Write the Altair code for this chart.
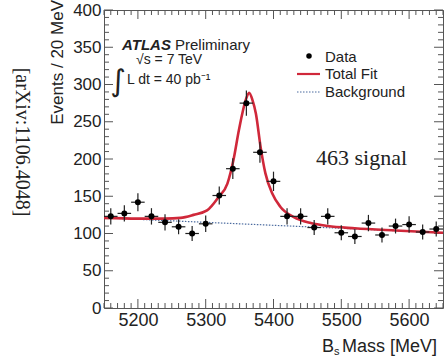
import altair as alt
import pandas as pd

# ---- data ----
mass = [5160, 5180, 5200, 5220, 5240, 5260, 5280, 5300, 5320, 5340, 5360, 5380, 5400,
        5420, 5440, 5460, 5480, 5500, 5520, 5540, 5560, 5580, 5600, 5620, 5640]
counts = [123, 127, 142, 123, 115, 109, 100, 113, 151, 187, 275, 209, 170,
          123, 123, 108, 123, 101, 96, 114, 98, 110, 112, 102, 106]
errors = [11, 11, 12, 11, 11, 10, 10, 11, 12, 14, 17, 14, 13,
          11, 11, 10, 11, 10, 10, 11, 10, 10, 11, 10, 10]
bin_half = 10

fit_mass = [5150, 5200, 5240, 5263, 5282, 5302, 5319, 5332, 5341, 5349, 5359, 5364,
            5369, 5374, 5381, 5388, 5398, 5410, 5430, 5455, 5480, 5520, 5580, 5650]
fit_val = [121, 120, 120, 121, 125, 131, 149, 167, 199, 239, 279, 289,
           279, 261, 216, 181, 154, 136, 122, 114, 110, 107, 104, 101]

bg_mass = [5150, 5650]
bg_val = [121, 101]

x_labels = [5200, 5300, 5400, 5500, 5600]
y_labels = [0, 50, 100, 150, 200, 250, 300, 350, 400]
x_minor = [v for v in range(5150, 5651, 10) if v not in x_labels]
y_minor = [v for v in range(0, 401, 10) if v not in y_labels]

W, H = 339, 298
FONT = "Liberation Sans"
SERIF = "Liberation Serif"
TXT = "#222222"
RED = "#d0283a"
BLUE = "#4a6a9e"
AXC = "#555555"

xs = alt.Scale(domain=[5150, 5650], nice=False, zero=False)
ys = alt.Scale(domain=[0, 400], nice=False, zero=True)
XA = alt.Axis(values=x_labels, title=None, format="d", labelFontSize=18, labelPadding=3,
              labelFont=FONT, labelColor=TXT, ticks=False, domain=False, grid=False)
YA = alt.Axis(values=y_labels, title=None, format="d", labelFontSize=17, labelPadding=3,
              labelFont=FONT, labelColor=TXT, ticks=False, domain=False, grid=False)

df = pd.DataFrame({"m": mass, "n": counts, "e": errors})
df["lo"] = df["n"] - df["e"]
df["hi"] = df["n"] + df["e"]
df["ml"] = df["m"] - bin_half
df["mh"] = df["m"] + bin_half

base = alt.Chart(df)
vbar = base.mark_rule(color=TXT, strokeWidth=1.2).encode(
    x=alt.X("m:Q", scale=xs, axis=XA), y=alt.Y("lo:Q", scale=ys, axis=YA), y2="hi:Q")
hbar = base.mark_rule(color=TXT, strokeWidth=1.2).encode(
    x=alt.X("ml:Q", scale=xs, axis=XA), x2="mh:Q", y=alt.Y("n:Q", scale=ys, axis=YA))
pts = base.mark_circle(color="black", size=36, opacity=1).encode(
    x=alt.X("m:Q", scale=xs, axis=XA), y=alt.Y("n:Q", scale=ys, axis=YA))

bg = alt.Chart(pd.DataFrame({"m": bg_mass, "v": bg_val})).mark_line(
    color=BLUE, strokeWidth=1.2, strokeDash=[1.5, 1.5]).encode(
    x=alt.X("m:Q", scale=xs, axis=XA), y=alt.Y("v:Q", scale=ys, axis=YA))
fit = alt.Chart(pd.DataFrame({"m": fit_mass, "v": fit_val})).mark_line(
    color=RED, strokeWidth=2.6, interpolate="monotone").encode(
    x=alt.X("m:Q", scale=xs, axis=XA), y=alt.Y("v:Q", scale=ys, axis=YA))

def xticks(vals, length):
    d = alt.Chart(pd.DataFrame({"t": vals}))
    bot = d.mark_rule(color=AXC, strokeWidth=1).encode(
        x=alt.X("t:Q", scale=xs, axis=XA), y=alt.value(H), y2=alt.value(H - length))
    top = d.mark_rule(color=AXC, strokeWidth=1).encode(
        x=alt.X("t:Q", scale=xs, axis=XA), y=alt.value(0), y2=alt.value(length))
    return [bot, top]

def yticks(vals, length):
    d = alt.Chart(pd.DataFrame({"t": vals}))
    left = d.mark_rule(color=AXC, strokeWidth=1).encode(
        y=alt.Y("t:Q", scale=ys, axis=YA), x=alt.value(0), x2=alt.value(length))
    right = d.mark_rule(color=AXC, strokeWidth=1).encode(
        y=alt.Y("t:Q", scale=ys, axis=YA), x=alt.value(W), x2=alt.value(W - length))
    return [left, right]

ticks = xticks(x_labels, 9) + xticks(x_minor, 5) + yticks(y_labels, 9) + yticks(y_minor, 5)

def label(text, x, y, size=15, font=FONT, align="left", baseline="middle",
          angle=0, weight="normal", style="normal", color=TXT):
    kw = dict(align=align, baseline=baseline, fontSize=size, font=font,
              fontWeight=weight, fontStyle=style, color=color)
    if angle:
        kw["angle"] = angle
    return alt.Chart(pd.DataFrame({"t": [text]})).mark_text(**kw).encode(
        x=alt.value(x), y=alt.value(y), text="t:N")

texts = [
    label("[arXiv:1106.4048]", -82, 132, size=20, font=SERIF, align="center", angle=90),
    label("Events / 20 MeV", -46, -10, size=17, align="right", angle=270),
    label("B", 218, 342, size=18, baseline="alphabetic"),
    label("s", 230, 345, size=11, baseline="alphabetic"),
    label("Mass [MeV]", 238, 342, size=18, baseline="alphabetic"),
    label("ATLAS", 18, 35, size=15, weight="bold", style="italic"),
    label("Preliminary", 71, 35, size=15),
    label("√s = 7 TeV", 32, 50, size=14),
    label("∫", 14, 72, size=30, align="center", font="DejaVu Sans"),
    label("L dt = 40 pb⁻¹", 23, 70, size=14),
    label("463 signal", 212, 148, size=22, font=SERIF),
    label("Data", 221, 47, size=15),
    label("Total Fit", 221, 64, size=15),
    label("Background", 221, 82, size=15),
]

one = pd.DataFrame({"a": [0]})
leg_dot = alt.Chart(one).mark_circle(color="black", size=30, opacity=1).encode(
    x=alt.value(205), y=alt.value(46))
leg_red = alt.Chart(one).mark_rule(color=RED, strokeWidth=2.2).encode(
    x=alt.value(193), x2=alt.value(216), y=alt.value(64))
leg_bg = alt.Chart(one).mark_rule(color=BLUE, strokeWidth=1, strokeDash=[1.5, 1.5]).encode(
    x=alt.value(193), x2=alt.value(216), y=alt.value(82))

chart = alt.layer(
    *ticks, bg, fit, vbar, hbar, pts, leg_dot, leg_red, leg_bg, *texts
).properties(
    width=W, height=H,
    autosize=alt.AutoSizeParams(type="none"),
    padding={"left": 104, "top": 10, "right": 2, "bottom": 50},
    background="white",
).configure_view(stroke=AXC, strokeWidth=1)

chart.save("out.html", embed_options={"renderer": "svg", "actions": False})
